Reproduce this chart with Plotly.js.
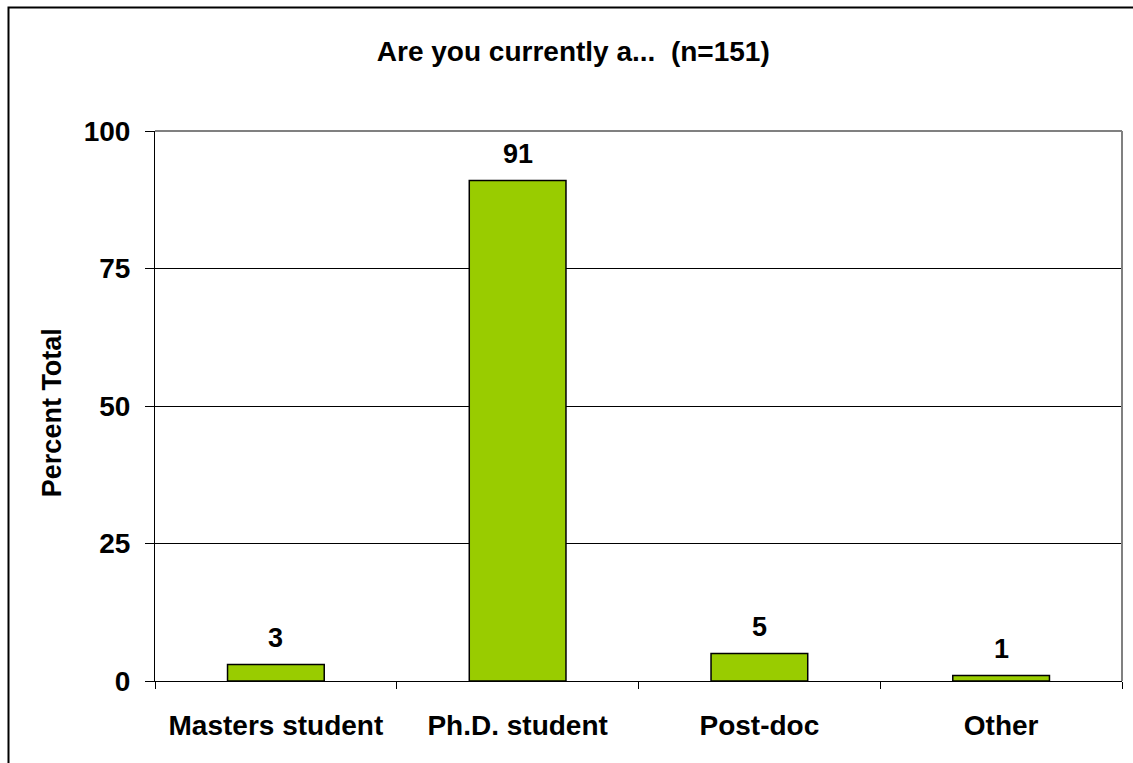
<!DOCTYPE html>
<html>
<head>
<meta charset="utf-8">
<script src="https://cdn.plot.ly/plotly-3.0.1.min.js"></script>
<style>
  html, body { margin: 0; padding: 0; background: #fff; }
  #chart { width: 1133px; height: 763px; }
</style>
</head>
<body>
<div id="chart"></div>
<script>
// Survey responses: current position of respondents (percent of total)
const categories = ["Masters student", "Ph.D. student", "Post-doc", "Other"];
const percentValues = [3, 91, 5, 1];
const yTickValues = [0, 25, 50, 75, 100];

const FONT = "Liberation Sans, Arial, Helvetica, sans-serif";

const bars = {
  type: "bar",
  x: categories,
  y: percentValues,
  width: 0.4,
  marker: { color: "#99CC00", line: { color: "#000000", width: 1.5 } },
  hoverinfo: "x+y"
};

// Value labels above each bar
const valueLabels = categories.map((c, i) => ({
  x: c,
  y: percentValues[i],
  xref: "x",
  yref: "y",
  text: "<b>" + percentValues[i] + "</b>",
  showarrow: false,
  yanchor: "bottom",
  yshift: 10,
  font: { family: FONT, size: 27, color: "#000" }
}));

// Vertical y-axis caption
const yCaption = {
  x: -0.1065,
  y: 0.487,
  xref: "paper",
  yref: "paper",
  text: "<b>Percent Total</b>",
  textangle: -90,
  showarrow: false,
  xanchor: "center",
  yanchor: "middle",
  font: { family: FONT, size: 27, color: "#000" }
};

const layout = {
  width: 1133,
  height: 763,
  margin: { l: 155, r: 11, t: 131, b: 82 },
  paper_bgcolor: "#ffffff",
  plot_bgcolor: "#ffffff",
  showlegend: false,
  bargap: 0.6,
  title: {
    text: "<b>Are you currently a...  (n=151)</b>",
    font: { family: FONT, size: 28, color: "#000" },
    x: 0.506,
    xanchor: "center",
    y: 0.933,
    yanchor: "middle"
  },
  xaxis: {
    type: "category",
    tickson: "boundaries",
    ticks: "outside",
    ticklen: 7,
    tickwidth: 1,
    tickcolor: "#000",
    showline: true,
    linecolor: "#000",
    linewidth: 1,
    showgrid: false,
    tickfont: { family: FONT, size: 28, color: "#000", weight: "bold" },
    ticklabelstandoff: 19
  },
  yaxis: {
    range: [0, 100],
    tickvals: yTickValues,
    ticktext: yTickValues.map(v => "<b>" + v + "</b>"),
    ticks: "outside",
    ticklen: 9,
    tickwidth: 1,
    tickcolor: "#000",
    showline: true,
    linecolor: "#000",
    linewidth: 1,
    showgrid: true,
    gridcolor: "#000",
    gridwidth: 1,
    zeroline: false,
    tickfont: { family: FONT, size: 28, color: "#000" },
    ticklabelstandoff: 9
  },
  annotations: valueLabels.concat([yCaption]),
  shapes: [
    // grey top and right edges of the plotting area
    { type: "line", xref: "paper", yref: "paper", x0: 0, x1: 1, y0: 1, y1: 1,
      line: { color: "#808080", width: 2 } },
    { type: "line", xref: "paper", yref: "paper", x0: 1, x1: 1, y0: 0, y1: 1,
      line: { color: "#808080", width: 2 } },
    // outer frame of the chart
    { type: "rect", xref: "paper", yref: "paper",
      x0: -0.1515, x1: 1.2, y0: -0.3, y1: 1.2245,
      line: { color: "#000000", width: 2 }, fillcolor: "rgba(0,0,0,0)", layer: "above" }
  ]
};

Plotly.newPlot("chart", [bars], layout, { displayModeBar: false, staticPlot: true });
</script>
</body>
</html>
